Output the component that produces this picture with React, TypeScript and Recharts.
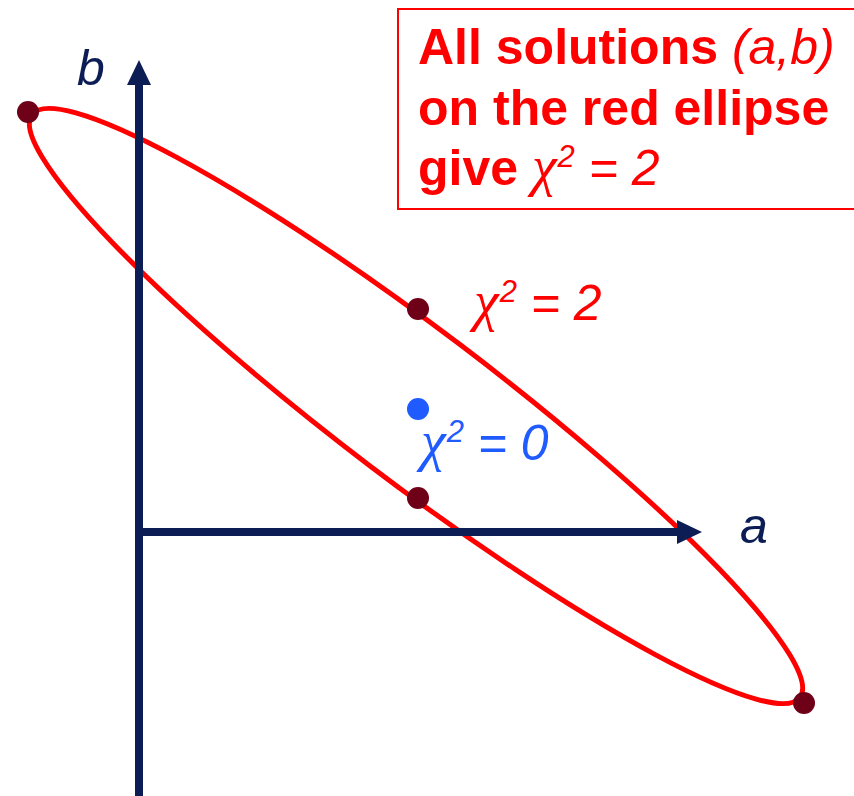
import { ReferenceArea, ReferenceDot, ReferenceLine, Scatter, ScatterChart, XAxis, YAxis } from 'recharts'

// parameter plane (a, b); 1 unit = 100 px in both directions so the tilt stays true
const aDomain: [number, number] = [-1.39, 7.15]
const bDomain: [number, number] = [-2.64, 5.32]

// points on the chi2 = 2 contour
const chi2Points = [
  { a: -1.11, b: 4.2 },
  { a: 2.79, b: 2.23 },
  { a: 2.79, b: 0.34 },
  { a: 6.65, b: -1.71 },
]
// best fit, chi2 = 0
const minPoint = [{ a: 2.79, b: 1.23 }]

// the chi2 = 2 ellipse
const ellipseCenter = { a: 2.77, b: 1.26 }
const ellipseSemiMajor = 4.82
const ellipseSemiMinor = 0.755
const ellipseTiltDeg = 37.2

const aAxisEnd = 5.63
const bAxisEnd = 4.72

const NAVY = '#0c1d55'
const RED = '#ff0000'
const DARK_RED = '#6e0018'
const BLUE = '#1f5bff'
const sans = '"Liberation Sans", Arial, Helvetica, sans-serif'
const serif = '"Liberation Serif", "Times New Roman", serif'

function ArrowLine(p: any) {
  const { x1, y1, x2, y2 } = p
  const dx = x2 - x1
  const dy = y2 - y1
  const len = Math.hypot(dx, dy) || 1
  const ux = dx / len
  const uy = dy / len
  const head = 25
  const half = 12
  const bx = x2 - ux * head
  const by = y2 - uy * head
  return (
    <g>
      <line x1={x1} y1={y1} x2={bx + ux} y2={by + uy} stroke={NAVY} strokeWidth={8} />
      <polygon
        points={`${x2},${y2} ${bx - uy * half},${by + ux * half} ${bx + uy * half},${by - ux * half}`}
        fill={NAVY}
      />
    </g>
  )
}

function EllipseShape(p: any) {
  const w = Math.abs(p.width)
  const h = Math.abs(p.height)
  const cx = p.x + w / 2
  const cy = p.y + h / 2
  return (
    <ellipse
      cx={cx}
      cy={cy}
      rx={w / 2}
      ry={h / 2}
      transform={`rotate(${ellipseTiltDeg} ${cx} ${cy})`}
      fill="none"
      stroke={RED}
      strokeWidth={5}
    />
  )
}

function ChiLabel({ cx, cy, value, color }: { cx: number; cy: number; value: string; color: string }) {
  return (
    <text x={cx} y={cy} fill={color} fontFamily={sans} fontStyle="italic" fontSize={50}>
      <tspan fontFamily={serif} fontSize={56}>χ</tspan>
      <tspan dx={1} dy={-18} fontSize={31}>2</tspan>
      <tspan dy={18}>{` = ${value}`}</tspan>
    </text>
  )
}

function AxisName({ cx, cy, text }: { cx: number; cy: number; text: string }) {
  return (
    <text x={cx} y={cy} fill={NAVY} fontFamily={sans} fontStyle="italic" fontSize={50}>
      {text}
    </text>
  )
}

export default function App() {
  return (
    <div style={{ position: 'relative', width: 854, height: 796, overflow: 'hidden', background: '#fff' }}>
      <style>{'body{margin:0}'}</style>
      <ScatterChart width={854} height={796} margin={{ top: 0, right: 0, bottom: 0, left: 0 }}>
        <XAxis type="number" dataKey="a" domain={aDomain} allowDataOverflow hide />
        <YAxis type="number" dataKey="b" domain={bDomain} allowDataOverflow hide />
        <ReferenceArea
          x1={ellipseCenter.a - ellipseSemiMajor}
          x2={ellipseCenter.a + ellipseSemiMajor}
          y1={ellipseCenter.b - ellipseSemiMinor}
          y2={ellipseCenter.b + ellipseSemiMinor}
          ifOverflow="visible"
          shape={EllipseShape}
        />
        <ReferenceLine
          segment={[
            { x: 0, y: bDomain[0] },
            { x: 0, y: bAxisEnd },
          ]}
          ifOverflow="visible"
          shape={ArrowLine}
        />
        <ReferenceLine
          segment={[
            { x: -0.04, y: 0 },
            { x: aAxisEnd, y: 0 },
          ]}
          ifOverflow="visible"
          shape={ArrowLine}
        />
        <Scatter
          data={chi2Points}
          fill={DARK_RED}
          isAnimationActive={false}
          shape={(p: any) => <circle cx={p.cx} cy={p.cy} r={11} fill={DARK_RED} />}
        />
        <Scatter
          data={minPoint}
          fill={BLUE}
          isAnimationActive={false}
          shape={(p: any) => <circle cx={p.cx} cy={p.cy} r={11} fill={BLUE} />}
        />
        <ReferenceDot
          x={3.35}
          y={2.12}
          r={1}
          ifOverflow="visible"
          shape={(p: any) => <ChiLabel cx={p.cx} cy={p.cy} value="2" color={RED} />}
        />
        <ReferenceDot
          x={2.82}
          y={0.72}
          r={1}
          ifOverflow="visible"
          shape={(p: any) => <ChiLabel cx={p.cx} cy={p.cy} value="0" color={BLUE} />}
        />
        <ReferenceDot
          x={6.01}
          y={-0.11}
          r={1}
          ifOverflow="visible"
          shape={(p: any) => <AxisName cx={p.cx} cy={p.cy} text="a" />}
        />
        <ReferenceDot
          x={-0.62}
          y={4.47}
          r={1}
          ifOverflow="visible"
          shape={(p: any) => <AxisName cx={p.cx} cy={p.cy} text="b" />}
        />
      </ScatterChart>
      <div
        style={{
          position: 'absolute',
          left: 397,
          top: 8,
          width: 480,
          height: 202,
          border: `2px solid ${RED}`,
          color: RED,
          fontFamily: sans,
          fontWeight: 700,
          fontSize: 50,
          lineHeight: '60.5px',
          padding: '7px 0 0 19px',
          boxSizing: 'border-box',
          whiteSpace: 'nowrap',
        }}
      >
        <div>
          All solutions <span style={{ fontWeight: 400, fontStyle: 'italic' }}>(a,b)</span>
        </div>
        <div>on the red ellipse</div>
        <div>
          give{' '}
          <span style={{ fontWeight: 400, fontStyle: 'italic', lineHeight: 0 }}>
            <span style={{ fontFamily: serif, fontSize: 56 }}>χ</span>
            <span style={{ fontSize: 31, position: 'relative', top: -18, marginLeft: 1 }}>2</span> = 2
          </span>
        </div>
      </div>
    </div>
  )
}
